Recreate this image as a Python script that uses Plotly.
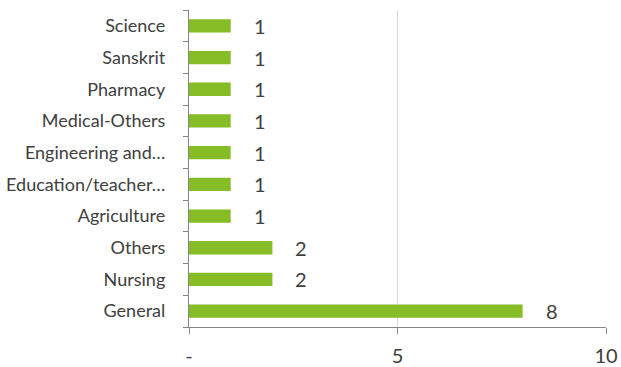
import plotly.graph_objects as go

categories = ["General", "Nursing", "Others", "Agriculture", "Education/teacher…",
              "Engineering and…", "Medical-Others", "Pharmacy", "Sanskrit", "Science"]
values = [8, 2, 2, 1, 1, 1, 1, 1, 1, 1]
x_tickvals = [0, 5, 10]
x_ticktext = ["-", "5", "10"]

FONT = "Lato"
TXT = "#404040"
AX = "#868686"

fig = go.Figure(go.Bar(
    y=categories, x=values, orientation="h",
    marker=dict(color="#86BC25", line=dict(width=0)),
    width=0.42,
))

for c, v in zip(categories, values):
    fig.add_annotation(x=v, y=c, text=str(v), showarrow=False, xanchor="left",
                       xshift=21, font=dict(family=FONT, size=20, color=TXT))

fig.update_layout(
    width=621, height=367,
    margin=dict(l=189, r=15, t=10, b=40, autoexpand=False),
    paper_bgcolor="white", plot_bgcolor="white",
    showlegend=False,
    font=dict(family=FONT, size=18, color=TXT),
)
fig.update_xaxes(range=[0, 10], tickvals=x_tickvals, ticktext=x_ticktext,
                 showgrid=True, gridcolor="#D9D9D9", gridwidth=1.3,
                 showline=True, linecolor=AX, linewidth=1.3,
                 ticks="outside", ticklen=6, tickcolor=AX, tickwidth=1.3,
                 ticklabelstandoff=5, zeroline=False, automargin=False,
                 ticklabeloverflow="allow",
                 tickfont=dict(family=FONT, size=20, color=TXT))
fig.update_yaxes(type="category", categoryorder="array", categoryarray=categories,
                 showline=True, linecolor=AX, linewidth=1.3,
                 ticks="outside", ticklen=5, tickcolor=AX, tickwidth=1.3,
                 tickson="boundaries", showgrid=False, ticklabelstandoff=19,
                 automargin=False,
                 tickfont=dict(family=FONT, size=18, color=TXT))

fig.write_html("out.html", config={"displayModeBar": False},
               post_script="document.body.style.margin='0';document.body.style.overflow='hidden';")
